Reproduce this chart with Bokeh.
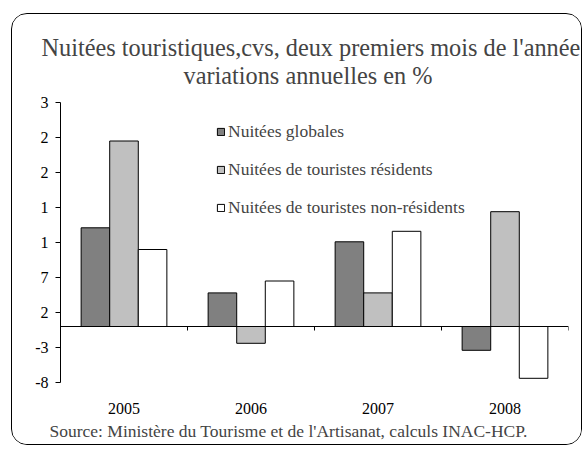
import numpy as np
from bokeh.plotting import figure
from bokeh.models import (ColumnDataSource, Range1d, LinearAxis, FixedTicker,
                          Title, Legend, LegendItem)
from bokeh.embed import file_html
from bokeh.resources import INLINE

# ---- data ----
years = ["2005", "2006", "2007", "2008"]
globales = [14.1, 4.8, 12.1, -3.4]
residents = [26.5, -2.4, 4.8, 16.4]
non_residents = [11.0, 6.5, 13.6, -7.4]
ytick_values = [-8, -3, 2, 7, 12, 17, 22, 27, 32]
ytick_labels = ["-8", "-3", "2", "7", "1", "1", "2", "2", "3"]
series_names = ["Nuitées globales", "Nuitées de touristes résidents",
                "Nuitées de touristes non-résidents"]
title_line1 = "Nuitées touristiques,cvs, deux premiers mois de l'année"
title_line2 = "variations annuelles en %"
source_text = "Source: Ministère du Tourisme et de l'Artisanat, calculs INAC-HCP."

FONT = "'Liberation Serif'"
colors = ["#808080", "#C0C0C0", "#FFFFFF"]

idx = np.arange(len(years)) + 0.5
bar_w = 0.225
offsets = [-bar_w, 0.0, bar_w]

p = figure(width=571, height=432, output_backend="svg", toolbar_location=None,
           x_range=Range1d(0, len(years)), y_range=Range1d(-8, 32),
           x_axis_type=None, min_border_left=48, min_border_right=15,
           min_border_top=88, min_border_bottom=64)
p.outline_line_color = None
p.xgrid.visible = False
p.ygrid.visible = False
p.background_fill_color = None
p.border_fill_color = "white"
p.styles = {"border": "1px solid black", "border-radius": "16px",
            "overflow": "hidden", "margin-left": "11px", "margin-top": "13px"}

renderers = []
for vals, off, col in zip([globales, residents, non_residents], offsets, colors):
    src = ColumnDataSource(dict(x=idx + off, top=vals))
    r = p.vbar(x="x", top="top", bottom=0, width=bar_w, source=src,
               fill_color=col, line_color="black", line_width=1)
    renderers.append(r)

# y axis
yax = p.yaxis[0]
yax.ticker = FixedTicker(ticks=ytick_values)
yax.major_label_overrides = {v: l for v, l in zip(ytick_values, ytick_labels)}
yax.minor_tick_line_color = None
yax.major_tick_in = 0
yax.major_tick_out = 5
yax.major_label_standoff = 7
yax.axis_line_color = "black"
yax.major_label_text_font = FONT
yax.major_label_text_font_size = "16px"
yax.major_label_text_color = "black"

# zero line axis with boundary ticks (minor ticks only, no labels)
zax = LinearAxis(fixed_location=0,
                 ticker=FixedTicker(ticks=[],
                                    minor_ticks=list(range(1, len(years) + 1))))
zax.minor_tick_in = 0
zax.minor_tick_out = 4
zax.minor_tick_line_color = "black"
zax.major_tick_line_color = None
zax.major_label_standoff = 0
zax.axis_line_color = "black"
p.add_layout(zax, "below")

# year label axis
xax = LinearAxis(ticker=FixedTicker(ticks=list(idx)))
xax.major_label_overrides = {float(v): y for v, y in zip(idx, years)}
xax.axis_line_color = None
xax.major_tick_line_color = None
xax.minor_tick_line_color = None
xax.major_label_standoff = 14
xax.major_label_text_font = FONT
xax.major_label_text_font_size = "16px"
xax.major_label_text_color = "black"
p.add_layout(xax, "below")

# title lines (closest to the frame first)
t2 = Title(text=title_line2, align="left", offset=123, standoff=28,
           text_font=FONT, text_font_size="24.3px", text_font_style="normal")
t1 = Title(text=title_line1, align="left", offset=-19, standoff=-31,
           text_font=FONT, text_font_size="24.3px", text_font_style="normal")
p.add_layout(t2, "above")
p.add_layout(t1, "above")

# source note, left aligned with an offset from the frame's left edge
src_title = Title(text=source_text, align="left", offset=-11, standoff=4,
                  text_font=FONT, text_font_size="17.5px",
                  text_font_style="normal")
p.add_layout(src_title, "below")

# legend
legend = Legend(items=[LegendItem(label=n, renderers=[r])
                       for n, r in zip(series_names, renderers)],
                location=(156, 164), orientation="vertical")
legend.glyph_width = 9
legend.glyph_height = 9
legend.label_standoff = 3
legend.label_height = 20
legend.spacing = 17
legend.padding = 0
legend.margin = 0
legend.border_line_color = None
legend.background_fill_alpha = 0
legend.label_text_font = FONT
legend.label_text_font_size = "17.5px"
p.add_layout(legend, "center")

open("out.html", "w").write(file_html(p, INLINE))
